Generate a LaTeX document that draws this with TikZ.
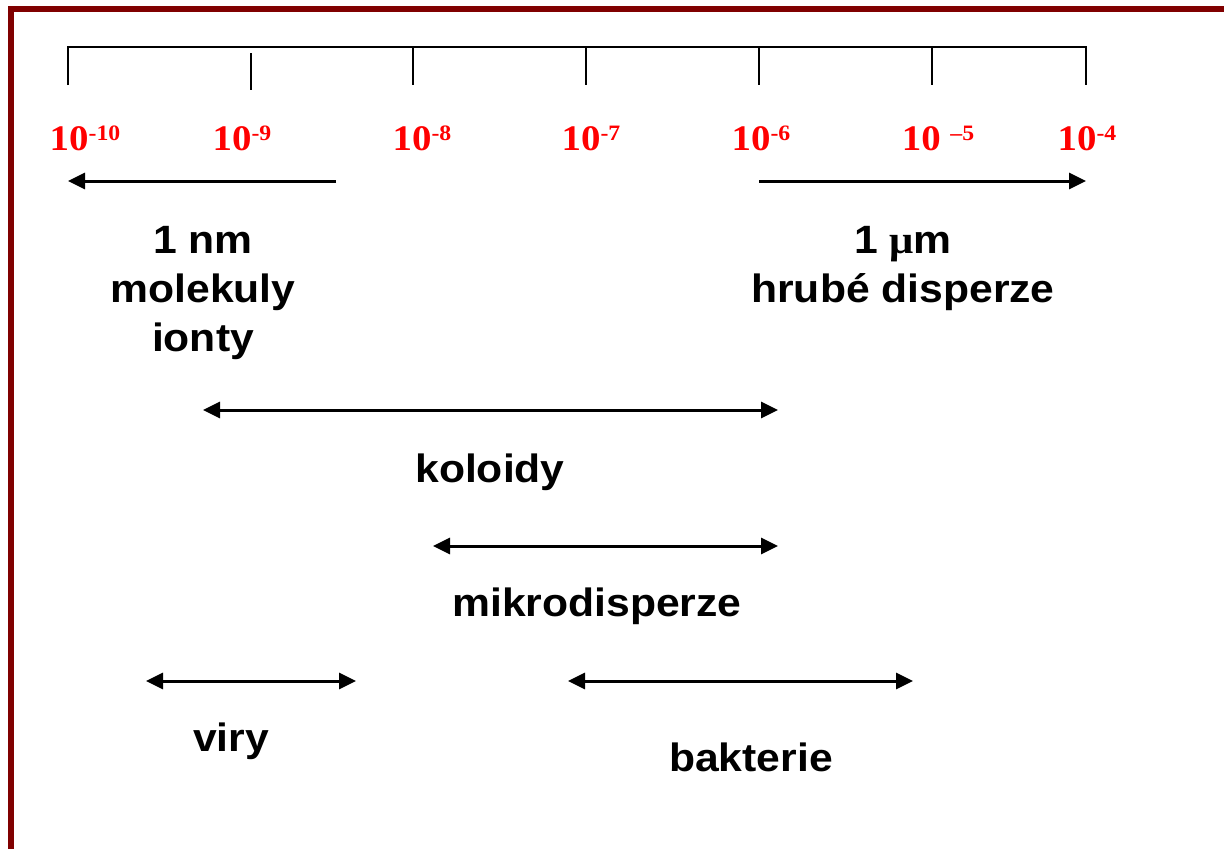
\documentclass[tikz,border=0pt]{standalone}
\usepackage{fontspec}
\setmainfont{Liberation Sans}[FakeStretch=1.08]
\newfontfamily\timesfont{Liberation Serif}[FakeStretch=1.08]
\usetikzlibrary{arrows.meta}
\definecolor{borderred}{RGB}{128,0,0}
\begin{document}
\begin{tikzpicture}[x=1pt,y=-1pt,
  lbl/.style={inner sep=0pt,anchor=base,font=\fontsize{39.5}{47}\selectfont\bfseries},
  pow/.style={inner sep=0pt,anchor=base,text=red,font=\timesfont\fontsize{36}{40}\selectfont\bfseries},
  scaleline/.style={line width=2pt},
  rng/.style={line width=3pt,-{Triangle[length=17pt,width=16pt]}},
  drng/.style={line width=3pt,{Triangle[length=17pt,width=16pt]}-{Triangle[length=17pt,width=16pt]}}
]
\newcommand{\supx}[1]{\raisebox{10pt}{\fontsize{22}{24}\selectfont #1}}
\fill[white] (0,0) rectangle (1224,849);
\useasboundingbox (0,0) rectangle (1224,849);
% border
\draw[borderred,line width=6pt] (11,849) -- (11,9) -- (1224,9);
% scale
\coordinate (t0) at (68,47);
\coordinate (t6) at (1086,47);
\draw[scaleline] (68,85) -- (t0) -- (t6) -- (1086,85);
\draw[scaleline] (251,53) -- (251,90);
\foreach \x in {413,586,759,932}{\draw[scaleline] (\x,47) -- (\x,85);}
% powers
\node[pow] (p10) at (85,150) {10\supx{-10}};
\node[pow] (p9) at (242,150) {10\supx{-9}};
\node[pow] (p8) at (422,150) {10\supx{-8}};
\node[pow] (p7) at (591,150) {10\supx{-7}};
\node[pow] (p6) at (761,150) {10\supx{-6}};
\node[pow] (p5) at (938,150) {10 \supx{–5}};
\node[pow] (p4) at (1087,150) {10\supx{-4}};
% arrows
\coordinate (a1s) at (336,181); \coordinate (a1e) at (68,181);
\coordinate (a2s) at (759,181); \coordinate (a2e) at (1086,181);
\coordinate (kol1) at (203,410); \coordinate (kol2) at (778,410);
\coordinate (mik1) at (433,546); \coordinate (mik2) at (778,546);
\coordinate (vir1) at (146,681); \coordinate (vir2) at (356,681);
\coordinate (bak1) at (568,681); \coordinate (bak2) at (913,681);
\draw[rng] (a1s) -- (a1e);
\draw[rng] (a2s) -- (a2e);
\draw[drng] (kol1) -- (kol2);
\draw[drng] (mik1) -- (mik2);
\draw[drng] (vir1) -- (vir2);
\draw[drng] (bak1) -- (bak2);
% labels
\node[lbl] (nm1) at (203,253) {1 nm};
\node[lbl] (nm2) at (203,302) {molekuly};
\node[lbl] (nm3) at (203,351) {ionty};
\node[lbl] (um1) at (903,253) {1 {\timesfont μ}m};
\node[lbl] (um2) at (903,302) {hrubé disperze};
\node[lbl] (kol) at (490,482) {koloidy};
\node[lbl] (mik) at (597,616) {mikrodisperze};
\node[lbl] (vir) at (231,751) {viry};
\node[lbl] (bak) at (751,771) {bakterie};
\end{tikzpicture}
\end{document}
